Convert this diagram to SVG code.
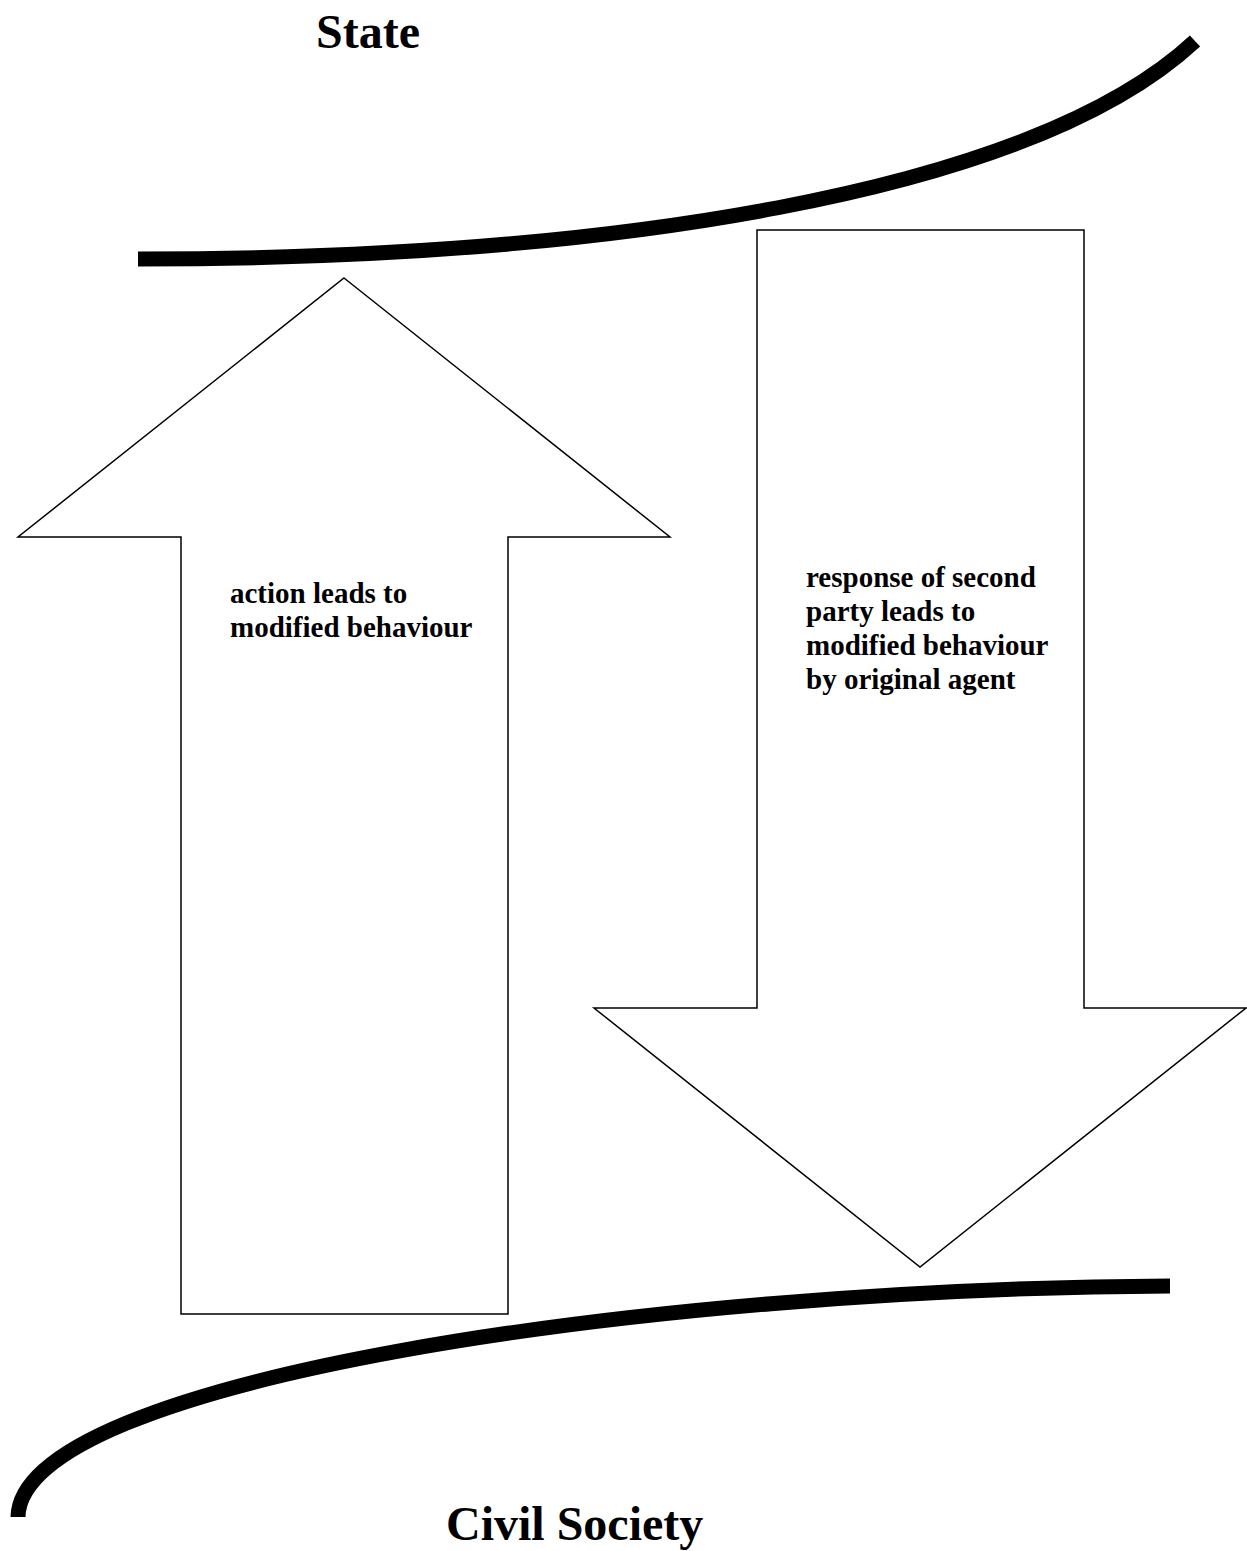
<svg xmlns="http://www.w3.org/2000/svg" width="1247" height="1551" viewBox="0 0 1247 1551">
<style>
.bg{fill:#ffffff}
.arrow{fill:#ffffff;stroke:#000000;stroke-width:1.5;stroke-linejoin:miter}
.band{fill:none;stroke:#000000;stroke-width:15;stroke-linecap:butt}
.title{font-family:"Liberation Serif","Times New Roman",serif;font-weight:bold;font-size:48px;fill:#000000}
.label{font-family:"Liberation Serif","Times New Roman",serif;font-weight:bold;font-size:29px;fill:#000000}
</style>
<rect class="bg" x="0" y="0" width="1247" height="1551"/>
<g id="connectors">
<path id="state-boundary" class="band" d="M138,259 C600,259 1030,195 1195,41"/>
<path id="civil-boundary" class="band" d="M1170,1286 C650,1288 20,1380 18,1517"/>
</g>
<g id="title-state">
<text class="title" x="316" y="48">State</text>
</g>
<g id="up-arrow">
<polygon class="arrow" points="344,278 670,537 508,537 508,1314 181,1314 181,537 18,537"/>
<text class="label" x="230" y="603">action leads to</text>
<text class="label" x="230" y="637">modified behaviour</text>
</g>
<g id="down-arrow">
<polygon class="arrow" points="757,230 1084,230 1084,1008 1246,1008 920,1267 594,1008 757,1008"/>
<text class="label" x="806" y="587">response of second</text>
<text class="label" x="806" y="621">party leads to</text>
<text class="label" x="806" y="655">modified behaviour</text>
<text class="label" x="806" y="689">by original agent</text>
</g>
<g id="title-civil">
<text class="title" x="446" y="1540">Civil Society</text>
</g>
</svg>
